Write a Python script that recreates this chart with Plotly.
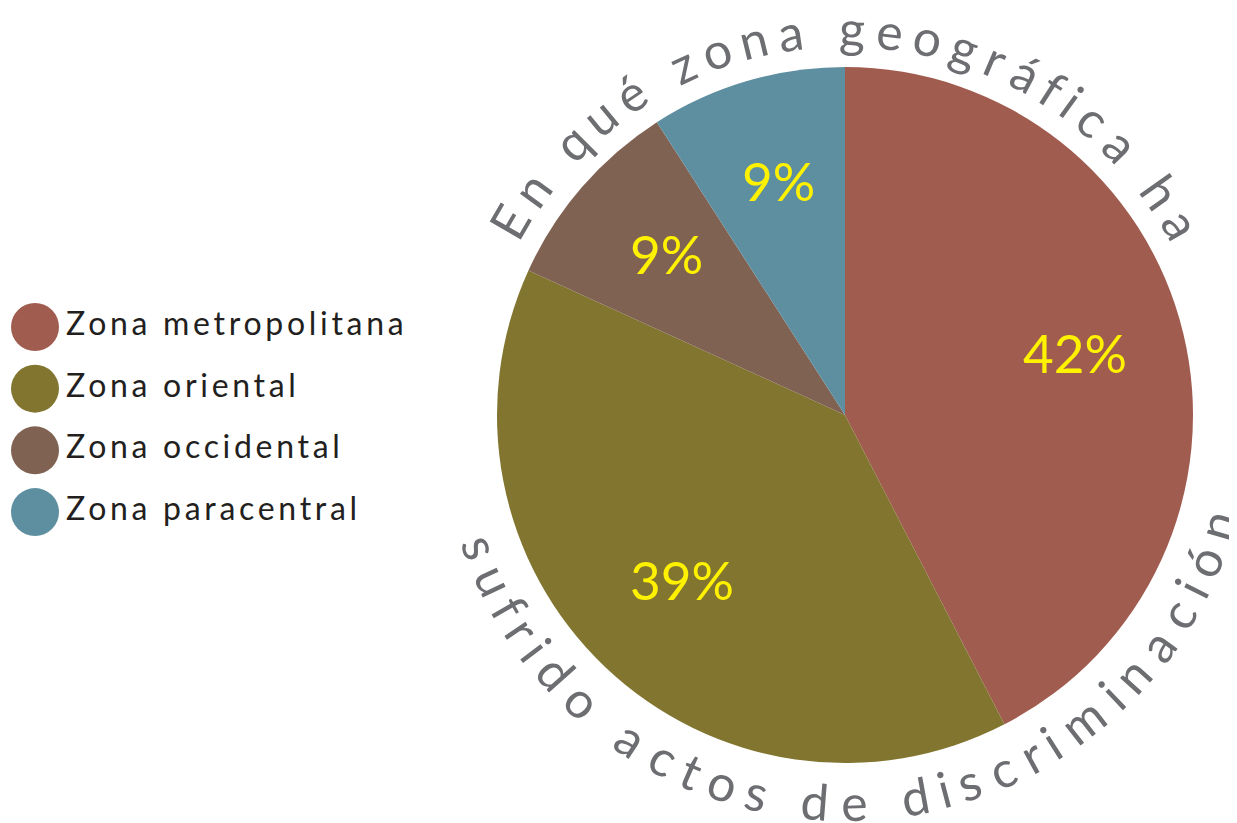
import math
import plotly.graph_objects as go

# data
zonas = ["Zona metropolitana", "Zona oriental", "Zona occidental", "Zona paracentral"]
porcentajes = [42, 39, 9, 9]
colores = ["#A05C4F", "#81752F", "#806253", "#5E8FA0"]
titulo_arriba = "En qué zona geográfica ha"
titulo_abajo = "sufrido actos de discriminación"

# the page body adds an 8px margin, so the figure is drawn 8px smaller/offset
OFF = 8
W, H = 1237 - OFF, 823 - OFF
CX, CY, R = 845, 415, 348  # pie centre and radius in screen pixels
FONT = "Lato"


def px_to_paper(px, py):
    return (px - OFF) / W, 1 - (py - OFF) / H


fig = go.Figure()

fig.add_trace(go.Pie(
    labels=zonas,
    values=porcentajes,
    sort=False,
    direction="clockwise",
    rotation=0,
    marker=dict(colors=colores, line=dict(width=0)),
    textinfo="none",
    domain=dict(x=[(CX - R - OFF) / W, (CX + R - OFF) / W],
                y=[1 - (CY + R - OFF) / H, 1 - (CY - R - OFF) / H]),
    showlegend=False,
    hoverinfo="label+value",
))

# legend drawn as a scatter with circle markers
fig.add_trace(go.Scatter(
    x=[0] * len(zonas),
    y=zonas,
    mode="markers+text",
    marker=dict(size=48, color=colores),
    text=[f'<span style="letter-spacing:3.7px">{z}</span>' for z in zonas],
    textposition="middle right",
    textfont=dict(family=FONT, size=32, color="#231F20"),
    showlegend=False,
    hoverinfo="skip",
))

anotaciones = []

# percentage labels placed at the middle angle of each slice
total = sum(porcentajes)
acum = 0
for v in porcentajes:
    ang = math.radians(360 * (acum + v / 2) / total)
    acum += v
    x, y = px_to_paper(CX + 0.68 * R * math.sin(ang), CY - 0.68 * R * math.cos(ang))
    anotaciones.append(dict(
        x=x, y=y, xref="paper", yref="paper", text=f"{v}%", showarrow=False,
        xanchor="center", yanchor="middle", yshift=7,
        font=dict(family=FONT, size=53, color="#FFF200"),
    ))

# approximate glyph widths (em) used to space the curved title
ANCHO = {" ": 0.3, "i": 0.25, "l": 0.25, "f": 0.32, "r": 0.38, "t": 0.36,
         "s": 0.48, "z": 0.5, "c": 0.55, "m": 0.9, "E": 0.6}


def texto_curvo(texto, ang_ini, ang_fin, radio, abajo=False):
    anchos = [ANCHO.get(ch, 0.58) + 0.12 for ch in texto]
    centros = []
    acc = 0
    for w in anchos:
        centros.append(acc + w / 2)
        acc += w
    notas = []
    for ch, c in zip(texto, centros):
        t = (c - centros[0]) / (centros[-1] - centros[0])
        ang = ang_ini + t * (ang_fin - ang_ini)
        a = math.radians(ang)
        x, y = px_to_paper(CX + radio * math.sin(a), CY - radio * math.cos(a))
        notas.append(dict(
            x=x, y=y, xref="paper", yref="paper",
            text=ch, showarrow=False, textangle=ang - 180 if abajo else ang,
            xanchor="center", yanchor="middle",
            font=dict(family=FONT, size=50, color="#6D6E71"),
        ))
    return notas


anotaciones += texto_curvo(titulo_arriba, -60, 60.5, 387)
anotaciones += texto_curvo(titulo_abajo, 250, 106.5, 387, abajo=True)

fig.update_layout(
    width=W,
    height=H,
    margin=dict(l=0, r=0, t=0, b=0),
    paper_bgcolor="white",
    plot_bgcolor="white",
    xaxis=dict(visible=False, range=[-(35 - OFF), W - (35 - OFF)], domain=[0, 1]),
    yaxis=dict(visible=False, range=[8.04, -5.17], domain=[0, 1],
               categoryorder="array", categoryarray=zonas),
    annotations=anotaciones,
)

fig.write_html("out.html")
